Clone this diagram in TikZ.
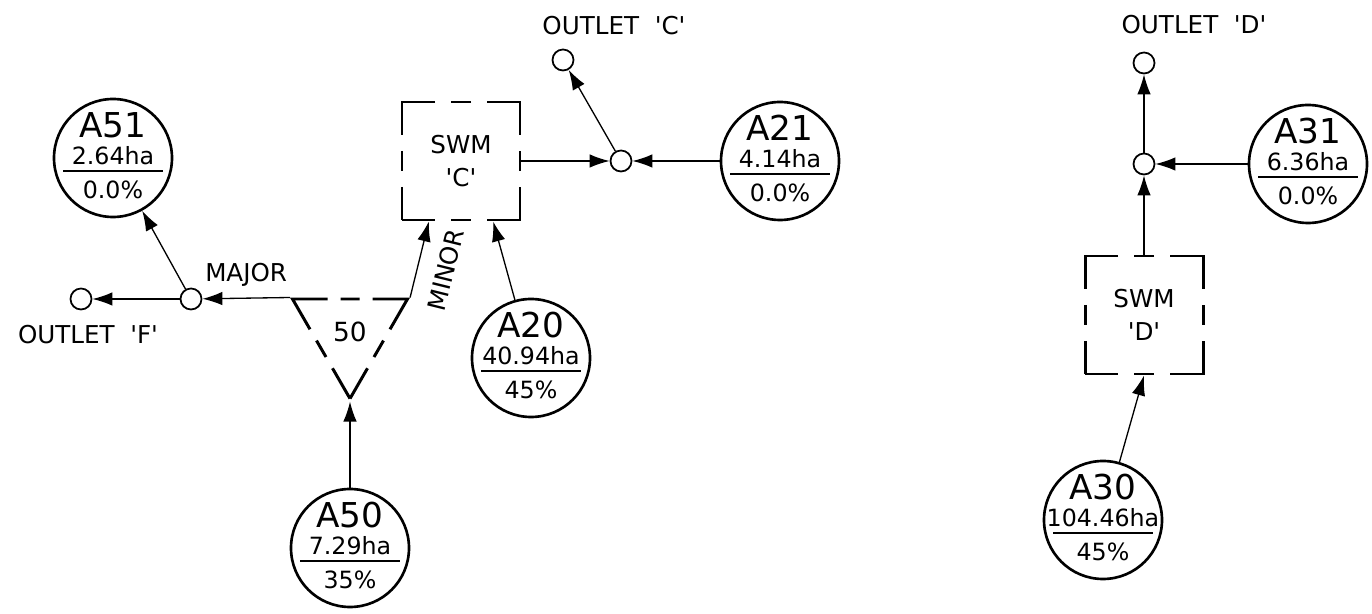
\documentclass[tikz,border=0pt]{standalone}
\usepackage{fontspec}
\setmainfont{DejaVu Sans}
\usetikzlibrary{arrows.meta,positioning,shapes.geometric}

\newcommand{\q}[1]{\textquotesingle#1\textquotesingle}

\begin{document}
\begin{tikzpicture}[
    >={Latex[length=0.4cm, width=0.27cm]},
    lbl/.style={inner sep=0pt, font=\fontsize{14}{16}\selectfont},
    area/.style n args={3}{circle, draw, line width=1.5pt, minimum size=2.36cm,
      inner sep=0pt,
      path picture={
        \node[inner sep=0pt, font=\fontsize{19.5}{21}\selectfont]
          at ([yshift=0.66cm]path picture bounding box.center) {#1};
        \node[inner sep=0pt, font=\fontsize{13.5}{15}\selectfont]
          at ([yshift=0.04cm]path picture bounding box.center) {#2};
        \draw[line width=1.6pt] ([yshift=-0.26cm]path picture bounding box.center)
          +(-1cm,0) -- +(1cm,0);
        \node[inner sep=0pt, font=\fontsize{13.5}{15}\selectfont]
          at ([yshift=-0.64cm]path picture bounding box.center) {#3};
      }},
    junction/.style={circle, draw, line width=1pt, minimum size=0.42cm,
      inner sep=0pt, fill=white},
    pond/.style={draw, line width=1.7pt, minimum size=2.36cm, inner sep=0pt,
      align=center, font=\fontsize{14}{18.7}\selectfont,
      dash pattern=on 1.32cm off 0.32cm on 0.4cm off 0.32cm, dash phase=0.66cm},
    splitter/.style={regular polygon, regular polygon sides=3,
      shape border rotate=180, draw, line width=1.7pt, minimum size=2.656cm,
      inner sep=0pt, font=\fontsize{15}{17}\selectfont,
      dash pattern=on 1.4cm off 0.26cm on 0.38cm off 0.26cm, dash phase=0.7cm},
    flow/.style={->, line width=0.75pt}
  ]
  \useasboundingbox (0,0) rectangle (27.44,-12.28);

  % west catchments
  \node[area={A51}{2.64ha}{0.0\%}] (A51) at (2.26,-3.16) {};
  \node[junction] (oF) at (1.62,-5.98) {};
  \node[junction] (jF) at (3.82,-5.98) {};
  \node[lbl, below=0.3cm of oF, xshift=0.14cm] (lblF) {OUTLET\ \ \q{F}};
  \node[splitter] (tri) at (7.00,-6.644) {50};
  \node[area={A50}{7.29ha}{35\%}] (A50) at (7.00,-10.96) {};

  % pond C
  \node[pond] (swmC) at (9.22,-3.22) {SWM\\\q{C}};
  \node[area={A20}{40.94ha}{45\%}] (A20) at (10.62,-7.16) {};
  \node[junction] (jC) at (12.42,-3.22) {};
  \node[junction] (oC) at (11.26,-1.20) {};
  \node[lbl, above=0.26cm of oC, xshift=1.02cm] (lblC) {OUTLET\ \ \q{C}};
  \node[area={A21}{4.14ha}{0.0\%}] (A21) at (15.60,-3.22) {};

  % pond D
  \node[junction] (oD) at (22.88,-1.26) {};
  \node[lbl, above=0.34cm of oD, xshift=1.0cm] (lblD) {OUTLET\ \ \q{D}};
  \node[junction] (jD) at (22.88,-3.28) {};
  \node[area={A31}{6.36ha}{0.0\%}] (A31) at (26.16,-3.28) {};
  \node[pond] (swmD) at (22.88,-6.30) {SWM\\\q{D}};
  \node[area={A30}{104.46ha}{45\%}] (A30) at (22.06,-10.40) {};

  \draw[flow] (tri.corner 3) -- node[lbl, above=0.22cm] (majorlbl) {MAJOR} (jF);
  \draw[flow] (jF) -- (oF);
  \draw[flow] (jF) -- (A51);
  \draw[flow] (A50) -- (tri.corner 1);
  \draw[flow] (tri.corner 2) -- node[lbl, sloped, below=0.36cm, pos=0.45]
    (minorlbl) {MINOR} (swmC.-118);
  \draw[flow] (A20) -- (swmC.-62);
  \draw[flow] (swmC) -- (jC);
  \draw[flow] (A21) -- (jC);
  \draw[flow] (jC) -- (oC);

  \draw[flow] (A30) -- (swmD.south);
  \draw[flow] (swmD) -- (jD);
  \draw[flow] (A31) -- (jD);
  \draw[flow] (jD) -- (oD);
\end{tikzpicture}
\end{document}
